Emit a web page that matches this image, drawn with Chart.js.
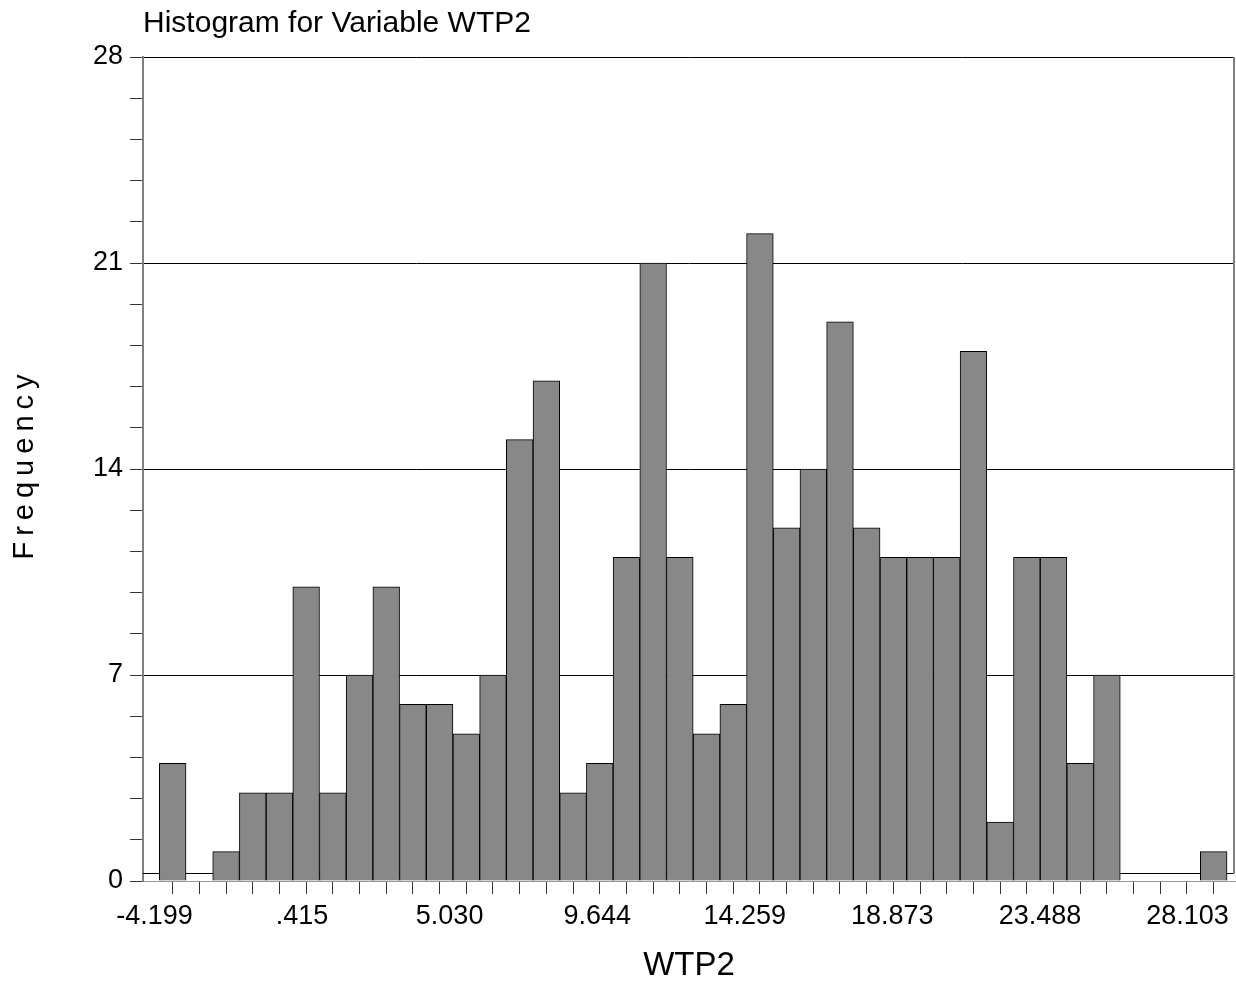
<!DOCTYPE html>
<html>
<head>
<meta charset="utf-8">
<script src="https://cdn.jsdelivr.net/npm/chart.js@4/dist/chart.umd.min.js"></script>
<style>
  html, body { margin: 0; padding: 0; background: #ffffff; }
  #wrap { width: 1236px; height: 986px; position: relative; }
</style>
</head>
<body>
<div id="wrap"><canvas id="c" width="1236" height="986"></canvas></div>
<script>
// ---- data ----
const chartTitle = 'Histogram for Variable WTP2';
const xTitle = 'WTP2';
const yTitle = 'Frequency';
// frequency of each of the 40 bins, left to right
const counts = [4, 0, 1, 3, 3, 10, 3, 7, 10, 6,
                6, 5, 7, 15, 17, 3, 4, 11, 21, 11,
                5, 6, 22, 12, 14, 19, 12, 11, 11, 11,
                18, 2, 11, 11, 4, 7, 0, 0, 0, 1];
// lower edge of the first bin and bin width (in WTP2 units)
const binStart = -4.046;
const binWidth = 0.8346;
// x-axis tick labels
const xTickLabels = ['-4.199', '.415', '5.030', '9.644', '14.259', '18.873', '23.488', '28.103'];
// y-axis range / ticks
const yMax = 28;
const yMajorStep = 7;
const yMinorStep = 1.4;
// x-axis visible range
const xMin = -4.556;
const xMax = 29.587;

// ---- build chart inputs ----
const binCenters = counts.map((c, i) => binStart + (i + 0.5) * binWidth);
const barData = counts.map((c, i) => ({ x: binCenters[i], y: c }));
const xTickValues = xTickLabels.map(s => parseFloat(s));

const FONT = "'Liberation Sans', Arial, sans-serif";

const framePlugin = {
  id: 'frame',
  beforeDatasetsDraw(chart) {
    const { ctx, chartArea: a } = chart;
    ctx.save();
    ctx.strokeStyle = '#000000';
    ctx.lineWidth = 1;
    ctx.beginPath();
    ctx.moveTo(a.left, a.bottom - 7.5);
    ctx.lineTo(a.right, a.bottom - 7.5);
    ctx.stroke();
    ctx.restore();
  },
  afterDraw(chart) {
    const { ctx, chartArea: a } = chart;
    ctx.save();
    ctx.strokeStyle = '#808080';
    ctx.lineWidth = 2;
    ctx.beginPath();
    ctx.moveTo(a.right - 1, a.top);
    ctx.lineTo(a.right - 1, a.bottom - 7);
    ctx.stroke();
    // rotated y axis title with spaced letters
    ctx.translate(25, 467);
    ctx.rotate(-Math.PI / 2);
    ctx.font = "29px " + FONT;
    ctx.fillStyle = '#000000';
    ctx.textAlign = 'center';
    ctx.textBaseline = 'middle';
    try { ctx.letterSpacing = '6px'; } catch (e) {}
    ctx.fillText(yTitle, 3, 0);
    ctx.restore();
  }
};

new Chart(document.getElementById('c'), {
  type: 'bar',
  data: {
    datasets: [{
      data: barData,
      backgroundColor: '#888888',
      borderColor: '#000000',
      borderWidth: 1,
      barPercentage: 1,
      categoryPercentage: 1,
      xAxisID: 'x',
      yAxisID: 'y'
    }]
  },
  options: {
    responsive: false,
    animation: false,
    devicePixelRatio: 1,
    layout: { padding: { left: 86, right: 1, top: 0, bottom: 0 } },
    plugins: {
      legend: { display: false },
      tooltip: { enabled: false },
      title: {
        display: true,
        text: chartTitle,
        align: 'start',
        fullSize: false,
        color: '#000000',
        font: { family: FONT, size: 30, weight: 'normal' },
        padding: { top: 6, bottom: 15 }
      }
    },
    scales: {
      x: {
        type: 'linear',
        position: 'bottom',
        offset: false,
        min: xMin,
        max: xMax,
        afterBuildTicks: (scale) => { scale.ticks = binCenters.map(v => ({ value: v })); },
        ticks: { display: false, autoSkip: false },
        grid: {
          offset: false,
          drawOnChartArea: false,
          drawTicks: true,
          tickLength: 13,
          tickColor: '#333333',
          tickWidth: 1
        },
        border: { display: true, color: '#999999', width: 1 }
      },
      x2: {
        type: 'linear',
        position: 'bottom',
        offset: false,
        min: xMin,
        max: xMax,
        afterBuildTicks: (scale) => { scale.ticks = xTickValues.map(v => ({ value: v })); },
        ticks: {
          autoSkip: false,
          maxRotation: 0,
          padding: 6,
          color: '#000000',
          font: { family: FONT, size: 27 },
          callback: (value, index) => xTickLabels[index]
        },
        grid: { display: false, drawTicks: false, offset: false },
        border: { display: false },
        title: {
          display: true,
          text: xTitle,
          color: '#000000',
          font: { family: FONT, size: 33 },
          padding: { top: 8, bottom: 0 }
        }
      },
      y: {
        type: 'linear',
        min: 0,
        max: yMax,
        afterBuildTicks: (scale) => {
          const t = [];
          for (let k = 0; k <= Math.round(yMax / yMinorStep); k++) t.push({ value: +(k * yMinorStep).toFixed(4) });
          scale.ticks = t;
        },
        ticks: {
          autoSkip: false,
          padding: 7,
          color: '#000000',
          font: { family: FONT, size: 27 },
          callback: (value) => {
            const r = value / yMajorStep;
            return Math.abs(r - Math.round(r)) < 1e-6 ? String(Math.round(value)) : '';
          }
        },
        grid: {
          drawTicks: true,
          tickLength: 13,
          tickColor: '#333333',
          color: (ctx) => {
            const v = ctx.tick ? ctx.tick.value : 0;
            const r = v / yMajorStep;
            return (v > 0 && Math.abs(r - Math.round(r)) < 1e-6) ? '#000000' : 'rgba(0,0,0,0)';
          },
          lineWidth: 1
        },
        border: { display: true, color: '#808080', width: 2 }
      }
    }
  },
  plugins: [framePlugin]
});
</script>
</body>
</html>
